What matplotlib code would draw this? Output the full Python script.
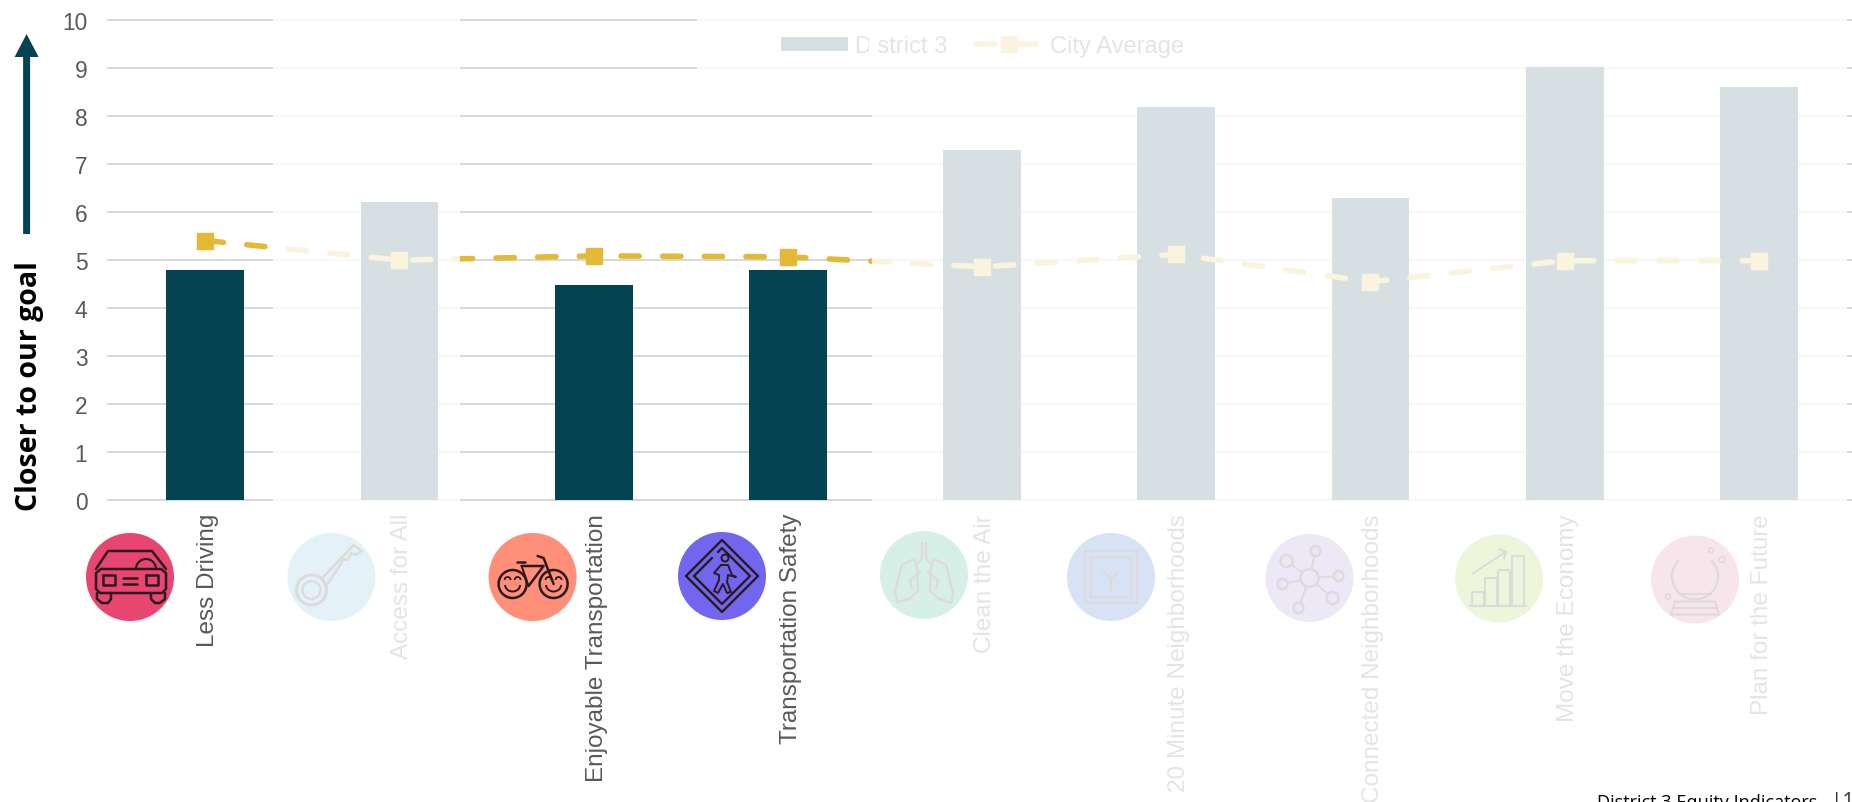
import numpy as np
import matplotlib
matplotlib.use("Agg")
import matplotlib.pyplot as plt
from matplotlib.patches import Rectangle, Circle, Arc, FancyArrow
from matplotlib.transforms import ScaledTranslation

categories = ["Less Driving", "Access for All", "Enjoyable Transportation", "Transportation Safety",
              "Clean the Air", "20 Minute Neighborhoods", "Connected Neighborhoods",
              "Move the Economy", "Plan for the Future"]
district_values = [4.79, 6.21, 4.47, 4.78, 7.29, 8.19, 6.29, 9.02, 8.60]
city_values = [5.40, 4.99, 5.08, 5.06, 4.85, 5.11, 4.54, 4.98, 4.98]
y_ticks = [0, 1, 2, 3, 4, 5, 6, 7, 8, 9, 10]

W, H = 1852, 803
TEAL = "#044351"
GOLD = "#E3B935"
GREY = "#595959"
INK = "#2A1A20"
FADE = 0.845

plt.rcParams["font.family"] = ["Liberation Sans", "DejaVu Sans"]

fig = plt.figure(figsize=(W / 100, H / 100), dpi=100, facecolor="white")

# chart axes, runs slightly off the right side like the screenshot
ax = fig.add_axes([108.2 / W, (H - 500.7) / H, 1747.8 / W, 480 / H])
x = np.arange(1, len(categories) + 1)
bars = ax.bar(x, district_values, width=0.4, color=TEAL, label="District 3", zorder=2)
line, = ax.plot(x, city_values, color=GOLD, lw=4, ls=(0, (3.3, 4.2)), dash_capstyle="round",
                marker="s", ms=12, mfc=GOLD, mec=GOLD, label="City Average", zorder=3)
ax.set_xlim(0.5, 9.5)
ax.set_ylim(0, 10)
ax.set_yticks(y_ticks)
ax.set_xticks(x)
ax.set_xticklabels(categories, rotation=90, fontsize=17.5, color=GREY)
ax.tick_params(axis="x", length=0, pad=9.5)
ax.tick_params(axis="y", length=0, pad=15, labelsize=16.4, labelcolor=GREY)
# nudge after tick_params, it resets the label transforms
shift = ScaledTranslation(3 / 100, 0, fig.dpi_scale_trans)
for lab in ax.get_xticklabels():
    lab.set_transform(lab.get_transform() + shift)
ax.yaxis.grid(True, color="#D9D9D9", lw=1.5, clip_on=False)
ax.set_axisbelow(True)
for s in ax.spines.values():
    s.set_visible(False)
ax.legend(handles=[bars, line], loc="center", bbox_to_anchor=(982.5 / W, (H - 47) / H),
          bbox_transform=fig.transFigure, ncol=2, frameon=False, fontsize=17, borderpad=0,
          handlelength=2.85, handleheight=0.55, handletextpad=0.3, columnspacing=1.2, labelcolor=GREY)

# pixel overlay for icons, arrow and the white fade panels
top = fig.add_axes([0, 0, 1, 1], facecolor="none", zorder=5)
top.set_xlim(0, W)
top.set_ylim(H, 0)
top.axis("off")


def pl(cx, cy, pts, lw=1.8):
    pts = np.array(pts, dtype=float)
    top.plot(cx + pts[:, 0], cy + pts[:, 1], color=INK, lw=lw, solid_capstyle="round",
             solid_joinstyle="round", zorder=3)


def ci(cx, cy, r, lw=1.8):
    top.add_patch(Circle((cx, cy), r, fill=False, ec=INK, lw=lw, zorder=3))


def arc(cx, cy, w, h, a, b, lw=1.6):
    top.add_patch(Arc((cx, cy), w, h, theta1=a, theta2=b, color=INK, lw=lw, zorder=3))


def car(cx, cy):
    pl(cx, cy, [(-34, -8), (-22, -26), (22, -26), (36, -8)])
    pl(cx, cy, [(-29, -8), (31, -8), (36, -4), (36, 12), (32, 16), (-30, 16), (-34, 12), (-34, -4), (-29, -8)])
    pl(cx, cy, [(-27, -2), (-15, -2), (-15, 8), (-27, 8), (-27, -2)])
    pl(cx, cy, [(16, -2), (28, -2), (28, 8), (16, 8), (16, -2)])
    pl(cx, cy, [(-7, 1), (7, 1)])
    pl(cx, cy, [(-7, 7), (7, 7)])
    pl(cx, cy, [(-33, 16), (-33, 22), (-28, 26), (-22, 26), (-19, 22), (-19, 16)])
    pl(cx, cy, [(21, 16), (21, 22), (25, 26), (30, 26), (35, 22), (35, 16)])
    arc(cx + 16, cy - 8, 20, 20, 180, 360)


def key(cx, cy):
    ci(cx - 20, cy + 13, 15, lw=2.2)
    ci(cx - 20, cy + 13, 9, lw=1.6)
    pl(cx, cy, [(-10, 2), (22, -32), (30, -26), (24, -22), (20, -24), (16, -17), (12, -18), (8, -11), (-4, 7)])


def bike(cx, cy):
    for dx in [-20, 21]:
        ci(cx + dx, cy + 7, 14)
        arc(cx + dx - 5, cy + 3, 6, 6, 180, 360, lw=1.3)
        arc(cx + dx + 5, cy + 3, 6, 6, 180, 360, lw=1.3)
        arc(cx + dx, cy + 8, 15, 13, 0, 180, lw=1.4)
    pl(cx, cy, [(-11, -11), (11, -11), (-4, 9)])
    pl(cx, cy, [(-11, -11), (-4, 9)], lw=1.4)
    pl(cx, cy, [(-16, -15), (-8, -15)])
    pl(cx, cy, [(5, -21), (11, -19), (21, 7)])


def ped(cx, cy):
    pl(cx, cy, [(-36, 0), (0, -36), (36, 0), (0, 36), (-36, 0)], lw=1.7)
    pl(cx, cy, [(-28, 0), (-10, -18)], lw=1.7)
    pl(cx, cy, [(-4, -24), (0, -28), (28, 0), (0, 28), (-28, 0)], lw=1.7)
    ci(cx + 3, cy - 18, 3.5, lw=1.4)
    pl(cx, cy, [(-1, -11), (6, -11), (10, -1), (14, 1), (6, -1), (5, 6), (9, 16), (5, 17), (1, 8), (-4, 17), (-8, 15), (-3, 4), (-3, -1), (-8, -3), (-1, -11)], lw=1.4)


def lungs(cx, cy):
    pl(cx, cy, [(-2, -32), (-2, -16), (-8, -10)])
    pl(cx, cy, [(2, -32), (2, -16), (8, -10)])
    pl(cx, cy, [(-10, -16), (-22, -10), (-29, 16), (-27, 27), (-15, 24), (-6, 16), (-7, -6), (-10, -16)])
    pl(cx, cy, [(10, -16), (22, -10), (29, 18), (27, 28), (15, 24), (6, 16), (7, -6), (10, -16)])
    pl(cx, cy, [(-4, -4), (-14, 6), (-12, 14)])
    pl(cx, cy, [(4, -4), (14, 6), (12, 14)])


def blocks(cx, cy):
    for r in [26, 20]:
        pl(cx, cy, [(-r, -r), (r, -r), (r, r), (-r, r), (-r, -r)], lw=1.5)
    pl(cx, cy, [(-8, -6), (0, 2), (8, -6)], lw=1.5)
    pl(cx, cy, [(0, 2), (0, 14)], lw=1.5)


def network(cx, cy):
    ci(cx, cy, 9)
    for dx, dy, r in [(6, -27, 5), (-23, -17, 6), (29, -2, 5), (-27, 6, 5), (23, 20, 6), (-11, 30, 5)]:
        ci(cx + dx, cy + dy, r)
        d = np.hypot(dx, dy)
        pl(cx, cy, [(dx * 9 / d, dy * 9 / d), (dx * (d - r) / d, dy * (d - r) / d)], lw=1.4)


def economy(cx, cy):
    for x0, x1, y0 in [(-27, -15, 13), (-14, -2, -1), (-1, 11, -9), (13, 25, -23)]:
        pl(cx, cy, [(x0, 27), (x0, y0), (x1, y0), (x1, 27)], lw=1.5)
    pl(cx, cy, [(-29, 27), (27, 27)], lw=1.5)
    pl(cx, cy, [(-26, -5), (7, -27)], lw=1.5)
    pl(cx, cy, [(0, -29), (7, -27), (5, -20)], lw=1.5)


def crystal(cx, cy):
    arc(cx, cy - 3, 46, 46, -45, 225)
    pl(cx, cy, [(-20, 22), (20, 22), (24, 35), (-24, 35), (-20, 22)], lw=1.5)
    pl(cx, cy, [(-22, 28), (22, 28)], lw=1.5)
    pl(cx, cy, [(-16, 14), (16, 14)], lw=1.5)
    ci(cx + 27, cy - 20, 3, lw=1.2)
    ci(cx + 16, cy - 29, 2.5, lw=1.2)
    ci(cx - 27, cy + 17, 2.5, lw=1.2)


# icon centres and colours, left to right
icon_list = [(car, 130, 578, "#E84670"), (key, 331.5, 578, "#57ABDF"), (bike, 532.6, 578, "#FF8F78"),
             (ped, 722, 577, "#7366EE"), (lungs, 924, 576, "#0AA56B"), (blocks, 1111, 578, "#0A4AC5"),
             (network, 1309.5, 579, "#9171C5"), (economy, 1499, 579.5, "#91C51D"),
             (crystal, 1695, 580.5, "#D25E84")]
for fn, cx, cy, col in icon_list:
    top.add_patch(Circle((cx, cy), 44, fc=col, ec="none", zorder=2))
    fn(cx, cy)

# white panels that grey out the indicators not in focus
for x0, y0, x1, y1 in [(273, 0, 460, H), (697, 0, 872, 105), (872, 0, 1847, H)]:
    top.add_patch(Rectangle((x0, y0), x1 - x0, y1 - y0, fc="white", ec="none", alpha=FADE, zorder=10))
top.add_patch(Rectangle((869, 28), 10, 34, fc="white", ec="none", zorder=11))

# goal arrow
top.add_patch(FancyArrow(26.6, 235, 0, -200, width=7, head_width=24, head_length=23,
                         length_includes_head=True, fc=TEAL, ec="none", zorder=12))
top.text(30, 386, "Closer to our goal", rotation=90, ha="center", va="center", fontsize=20.5,
         fontweight="bold", family="Open Sans", color="black", zorder=12)
top.text(1597, 808, "District 3 Equity Indicators", ha="left", va="baseline", fontsize=13.1,
         family="Open Sans", color="black", zorder=12)
top.text(1831, 808, "|1", ha="left", va="baseline", fontsize=15, family="Open Sans", color="#333333", zorder=12)

fig.savefig("out.png", dpi=100)
